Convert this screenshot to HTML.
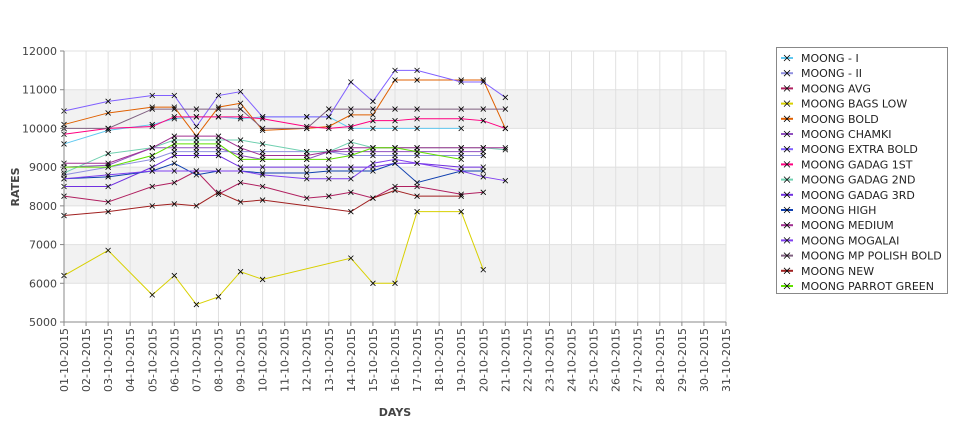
<!DOCTYPE html>
<html><head><style>body{margin:0;background:#fff}svg{font-family:"DejaVu Sans","Liberation Sans",sans-serif}</style></head>
<body>
<svg id="s" width="975" height="429" xmlns="http://www.w3.org/2000/svg">
<rect x="64" y="244.6" width="662" height="38.7" fill="#f2f2f2"/>
<rect x="64" y="167.2" width="662" height="38.7" fill="#f2f2f2"/>
<rect x="64" y="89.8" width="662" height="38.7" fill="#f2f2f2"/>
<g id="grid"></g>
<g id="series"></g>
<line x1="64" y1="51" x2="64" y2="322" stroke="#888"/>
<line x1="64" y1="322" x2="726" y2="322" stroke="#888"/>
<g id="ax" font-size="11" fill="#444"></g>
<text x="395" y="416" font-size="11" font-weight="bold" fill="#444" text-anchor="middle">DAYS</text>
<text transform="translate(19,187) rotate(-90)" font-size="11" font-weight="bold" fill="#444" text-anchor="middle">RATES</text>
<rect x="776.5" y="47.5" width="171" height="246" fill="#fff" stroke="#888"/>
<g id="leg" font-size="11" fill="#222"></g>
</svg>
<script>
const NS="http://www.w3.org/2000/svg";
function el(p,t,a,txt){const e=document.createElementNS(NS,t);for(const k in a)e.setAttribute(k,a[k]);if(txt)e.textContent=txt;p.appendChild(e);return e;}
const X=d=>64+(d-1)*22.067, Y=v=>322-(v-5000)*0.038714;
const g=document.getElementById('grid'),ax=document.getElementById('ax');
for(let d=1;d<=31;d++){el(g,'line',{x1:X(d),y1:51,x2:X(d),y2:322,stroke:'#e0e0e0'});
 el(ax,'line',{x1:X(d),y1:322,x2:X(d),y2:326,stroke:'#888'});
 const t=(d<10?'0':'')+d+'-10-2015';
 el(ax,'text',{transform:`translate(${X(d)+4},${328}) rotate(-90)`,'text-anchor':'end'},t);}
for(let v=5000;v<=12000;v+=1000){el(g,'line',{x1:64,y1:Y(v),x2:726,y2:Y(v),stroke:'#e0e0e0'});
 el(ax,'line',{x1:60,y1:Y(v),x2:64,y2:Y(v),stroke:'#888'});
 el(ax,'text',{x:57,y:Y(v)+4,'text-anchor':'end'},v);}
const D=[1,3,5,6,7,8,9,10,12,13,14,15,16,17,19,20,21];
const S=[
["MOONG - I","#60c8f0",[9600,9950,10100,10250,10300,10300,10250,10300,10300,10300,10000,10000,10000,10000,10000]],
["MOONG - II","#9090e0",[8800,9000,9200,9400,9400,9400,9400,9400,9400,9400,9300,9300,9300,9300,9300,9300]],
["MOONG AVG","#b02060",[8250,8100,8500,8600,8900,8300,8600,8500,8200,8250,8350,8200,8500,8500,8300,8350]],
["MOONG BAGS LOW","#d8d000",[6200,6850,5700,6200,5450,5650,6300,6100,null,null,6650,6000,6000,7850,7850,6350]],
["MOONG BOLD","#e06000",[10100,10400,10550,10550,9800,10550,10650,9950,10000,10050,10350,10350,11250,11250,11250,11250,10000]],
["MOONG CHAMKI","#9050c0",[9000,9050,9500,9500,9500,9500,9300,9200,9200,9400,9400,9400,9400,9400,9400,9400]],
["MOONG EXTRA BOLD","#8060ff",[10450,10700,10850,10850,10050,10850,10950,10300,10300,10300,11200,10700,11500,11500,11200,11200,10800]],
["MOONG GADAG 1ST","#ff0080",[9850,10000,10050,10300,10300,10300,10300,10250,10050,10000,10050,10200,10200,10250,10250,10200,10000]],
["MOONG GADAG 2ND","#70d0b0",[8850,9350,9500,9700,9700,9700,9700,9600,9400,9400,9650,9500,9500,9500,9500,9500,9450]],
["MOONG GADAG 3RD","#7030e0",[8500,8500,9000,9300,9300,9300,9000,9000,9000,9000,9000,9000,9100,9100,9000,9000]],
["MOONG HIGH","#1040b0",[8700,8750,8900,9100,8800,8900,8900,8850,8850,8900,8900,8900,9100,8600,8900,8900]],
["MOONG MEDIUM","#a03090",[9100,9100,9500,9800,9800,9800,9500,9300,9300,9400,9500,9500,9500,9500,9500,9500,9500]],
["MOONG MOGALAI","#8040f0",[8700,8800,8900,8900,8900,8900,8900,8800,8700,8700,8700,9100,9200,9100,8900,8750,8650]],
["MOONG MP POLISH BOLD","#806080",[10000,10000,10500,10500,10500,10500,10500,10000,10000,10500,10500,10500,10500,10500,10500,10500,10500]],
["MOONG NEW","#a02020",[7750,7850,8000,8050,8000,8350,8100,8150,null,null,7850,8200,8400,8250,8250]],
["MOONG PARROT GREEN","#60e000",[9000,9000,9300,9600,9600,9600,9200,9200,9200,9200,9300,9500,9500,9400,9200]]];
const sg=document.getElementById('series'),lg=document.getElementById('leg');
S.forEach((s,i)=>{let pts=[];s[2].forEach((v,j)=>{if(v!=null)pts.push([X(D[j]),Y(v)]);});
 el(sg,'polyline',{points:pts.map(p=>p.join(',')).join(' '),fill:'none',stroke:s[1],'stroke-width':1});
 pts.forEach(p=>el(sg,'path',{d:`M${p[0]-2.5},${p[1]-2.5}L${p[0]+2.5},${p[1]+2.5}M${p[0]-2.5},${p[1]+2.5}L${p[0]+2.5},${p[1]-2.5}`,stroke:'#000','stroke-width':0.8}));
 const y=58+i*15.2;
 el(lg,'line',{x1:781,y1:y,x2:793,y2:y,stroke:s[1],'stroke-width':2});
 el(lg,'path',{d:`M784,${y-3}L790,${y+3}M784,${y+3}L790,${y-3}`,stroke:'#000','stroke-width':0.8});
 el(lg,'text',{x:801,y:y+4},s[0]);});
</script>
</body></html>
